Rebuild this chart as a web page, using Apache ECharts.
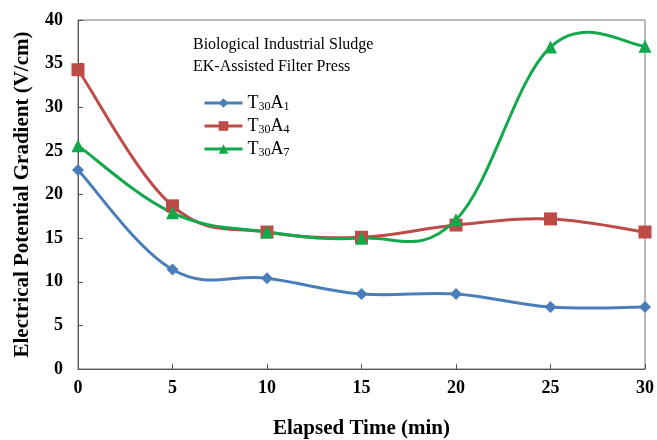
<!DOCTYPE html>
<html><head><meta charset="utf-8">
<script src="https://cdn.jsdelivr.net/npm/echarts@6/dist/echarts.min.js"></script>
<style>html,body{margin:0;padding:0;background:#fff}#c{width:657px;height:440px}</style>
</head><body><div id="c"></div>
<script>
const times = [0, 5, 10, 15, 20, 25, 30];
const seriesNames = ['T30A1', 'T30A4', 'T30A7'];
const legendLabels = ['T{s|30}A{s|1}', 'T{s|30}A{s|4}', 'T{s|30}A{s|7}'];
const a1 = [22.8, 11.4, 10.4, 8.6, 8.6, 7.1, 7.1];
const a4 = [34.3, 18.7, 15.7, 15.1, 16.5, 17.2, 15.7];
const a7 = [25.6, 17.9, 15.7, 15.0, 17.1, 36.9, 37.0];
const yTicks = [0, 5, 10, 15, 20, 25, 30, 35, 40];
const titleLines = ['Biological Industrial Sludge', 'EK-Assisted Filter Press'];

const font = 'Liberation Serif, Times New Roman, serif';
const colors = ['#4a7ebb', '#be4b48', '#12a84b'];
const symbols = ['diamond', 'rect', 'triangle'];
const sizes = [12, 13, 13];
const datas = [a1, a4, a7];
const TENSION = 0.19;

function curveSeries(i) {
  const vals = datas[i];
  return {
    name: seriesNames[i], type: 'custom', z: 1,
    itemStyle: {color: colors[i]},
    data: times.map(function (t, j) { return [t, vals[j]]; }),
    renderItem: function (params, api) {
      const k = params.dataIndex;
      const n = times.length;
      if (k >= n - 1) return null;
      const P = function (j) { j = Math.max(0, Math.min(n - 1, j)); return api.coord([times[j], vals[j]]); };
      const p0 = P(k - 1), p1 = P(k), p2 = P(k + 1), p3 = P(k + 2);
      return {
        type: 'bezierCurve',
        shape: {
          x1: p1[0], y1: p1[1], x2: p2[0], y2: p2[1],
          cpx1: p1[0] + TENSION * (p2[0] - p0[0]), cpy1: p1[1] + TENSION * (p2[1] - p0[1]),
          cpx2: p2[0] - TENSION * (p3[0] - p1[0]), cpy2: p2[1] - TENSION * (p3[1] - p1[1])
        },
        style: {stroke: colors[i], lineWidth: 3, fill: null},
        silent: true
      };
    }
  };
}

function markerSeries(i) {
  return {
    name: seriesNames[i], type: 'line', z: 5,
    data: times.map(function (t, j) { return [t, datas[i][j]]; }),
    symbol: symbols[i], symbolSize: sizes[i],
    itemStyle: {color: colors[i]},
    lineStyle: {color: colors[i], width: 0, opacity: 0}
  };
}

const chart = echarts.init(document.getElementById('c'));
chart.setOption({
  animation: false,
  color: colors,
  title: {
    text: titleLines.join('\n'),
    left: 193, top: 34, padding: 0,
    textStyle: {fontFamily: font, fontSize: 16, fontWeight: 'normal', color: '#000', lineHeight: 22}
  },
  legend: {
    orient: 'vertical', left: 203, top: 94, itemGap: 4, padding: 0,
    itemWidth: 38, itemHeight: 12,
    data: seriesNames.map(function (n, i) {
      return {name: n, lineStyle: {color: colors[i], width: 3, opacity: 1}, itemStyle: {color: colors[i]}};
    }),
    formatter: function (n) { return legendLabels[seriesNames.indexOf(n)]; },
    textStyle: {fontFamily: font, fontSize: 18, color: '#000',
      rich: {s: {fontFamily: font, fontSize: 12, color: '#000', verticalAlign: 'bottom', padding: [8, 0, 0, 0]}}}
  },
  grid: {left: 78, right: 12, top: 20, bottom: 71, show: true, borderColor: '#777', borderWidth: 1,
    containLabel: false, outerBoundsMode: 'none'},
  xAxis: {
    type: 'value', min: 0, max: 30, interval: 5,
    name: 'Elapsed Time (min)', nameLocation: 'middle', nameGap: 49,
    nameTextStyle: {fontFamily: font, fontSize: 21, fontWeight: 'bold', color: '#000'},
    axisLine: {lineStyle: {color: '#555'}},
    axisTick: {inside: true, length: 5, lineStyle: {color: '#555'}},
    axisLabel: {fontFamily: font, fontSize: 18, fontWeight: 'bold', color: '#000', margin: 10},
    splitLine: {show: false}
  },
  yAxis: {
    type: 'value', min: 0, max: 40, interval: 5,
    name: 'Electrical Potential Gradient (V/cm)', nameLocation: 'middle', nameGap: 45,
    nameTextStyle: {fontFamily: font, fontSize: 21, fontWeight: 'bold', color: '#000'},
    axisLine: {show: true, lineStyle: {color: '#555'}},
    axisTick: {show: true, inside: true, length: 5, lineStyle: {color: '#555'}},
    axisLabel: {fontFamily: font, fontSize: 18, fontWeight: 'bold', color: '#000', margin: 15,
      formatter: function (v) { return yTicks.indexOf(v) >= 0 ? String(v) : ''; }},
    splitLine: {show: false}
  },
  series: [markerSeries(0), markerSeries(1), markerSeries(2), curveSeries(0), curveSeries(1), curveSeries(2)]
});
</script></body></html>
